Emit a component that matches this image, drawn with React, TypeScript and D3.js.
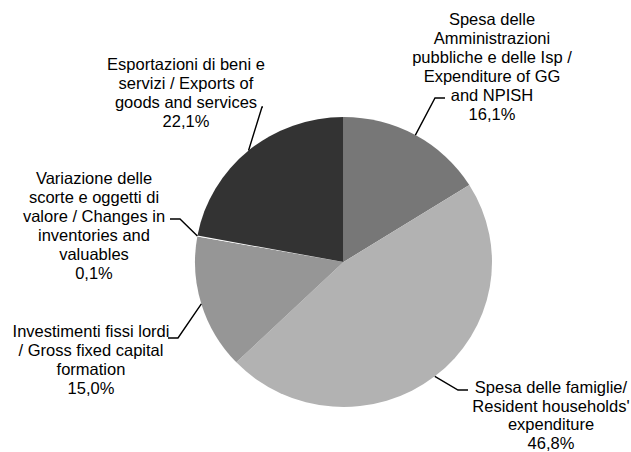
import React from "react";
import * as d3 from "d3";

const categories = [
  "Spesa delle Amministrazioni pubbliche e delle Isp / Expenditure of GG and NPISH",
  "Spesa delle famiglie/ Resident households' expenditure",
  "Investimenti fissi lordi / Gross fixed capital formation",
  "Variazione delle scorte e oggetti di valore / Changes in inventories and valuables",
  "Esportazioni di beni e servizi / Exports of goods and services",
];
const values = [16.1, 46.8, 15.0, 0.1, 22.1];
const valueLabels = ["16,1%", "46,8%", "15,0%", "0,1%", "22,1%"];
const labelLines = [
  ["Spesa delle", "Amministrazioni", "pubbliche e delle Isp /", "Expenditure of GG", "and NPISH"],
  ["Spesa delle famiglie/", "Resident households'", "expenditure"],
  ["Investimenti fissi lordi", "/ Gross fixed capital", "formation"],
  ["Variazione delle", "scorte e oggetti di", "valore / Changes in", "inventories and", "valuables"],
  ["Esportazioni di beni e", "servizi / Exports of", "goods and services"],
];
const colors = ["#777777", "#b2b2b2", "#969696", "#ffffff", "#333333"];

// layout
const W = 631, H = 452;
const cx = 343.5, cy = 262, rx = 148.5, ry = 145;
const lineH = 18.9;
const fontSize = 16.5;
// label block: center x, first line center y, leader elbow (x,y), elbow end x
const labelLayout = [
  { x: 492, y: 19, ex: 435, ey: 98, hx: 445 },
  { x: 551, y: 387, ex: 458, ey: 390, hx: 468 },
  { x: 91, y: 331, ex: 178, ey: 338, hx: 168 },
  { x: 94, y: 178, ex: 180, ey: 219, hx: 170 },
  { x: 186, y: 64, ex: 262, ey: 107, hx: 263 },
];

export default function App() {
  const pie = d3.pie<number>().sort(null).value((d) => d)(values);
  const arc = d3.arc<d3.PieArcDatum<number>>().innerRadius(0).outerRadius(rx);
  return (
    <svg
      width={W}
      height={H}
      style={{ position: "absolute", left: 0, top: 0, background: "#fff" }}
      fontFamily="'Liberation Sans', Arial, sans-serif"
    >
      <g transform={`translate(${cx},${cy}) scale(1,${ry / rx})`}>
        {pie.map((p, i) => (
          <path key={i} d={arc(p) || ""} fill={colors[i]} />
        ))}
      </g>
      {pie.map((p, i) => {
        const a = (p.startAngle + p.endAngle) / 2;
        const px = cx + rx * Math.sin(a);
        const py = cy - ry * Math.cos(a);
        const L = labelLayout[i];
        return (
          <polyline
            key={"l" + i}
            points={`${px},${py} ${L.ex},${L.ey} ${L.hx},${L.ey}`}
            fill="none"
            stroke="#000"
            strokeWidth={1.4}
          />
        );
      })}
      {labelLines.map((lines, i) => {
        const L = labelLayout[i];
        const all = [...lines, valueLabels[i]];
        return (
          <g key={"t" + i}>
            {all.map((s, j) => (
              <text
                key={j}
                x={L.x}
                y={L.y + j * (i === 1 ? 18.6 : lineH)}
                textAnchor="middle"
                dominantBaseline="central"
                fontSize={fontSize}
                fill="#000"
              >
                {s}
              </text>
            ))}
          </g>
        );
      })}
    </svg>
  );
}
